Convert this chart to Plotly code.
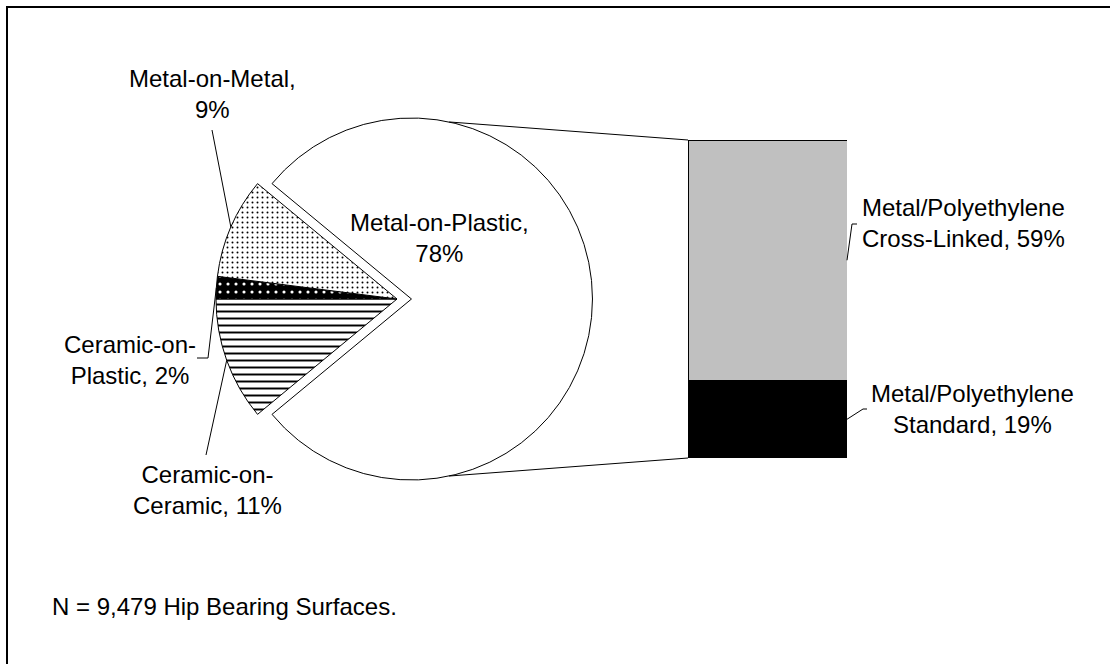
import math
import plotly.graph_objects as go

W, H = 1110, 664

# ---------------- data ----------------
pie_labels = ["Metal-on-Plastic", "Ceramic-on-Ceramic", "Ceramic-on-Plastic", "Metal-on-Metal"]
pie_values = [78, 11, 2, 9]
pie_text = ["Metal-on-Plastic,<br>78%", "Ceramic-on-<br>Ceramic, 11%",
            "Ceramic-on-<br>Plastic, 2%", "Metal-on-Metal,<br>9%"]
bar_labels = ["Metal/Polyethylene Standard", "Metal/Polyethylene Cross-Linked"]
bar_values = [19, 59]
bar_text = ["Metal/Polyethylene<br>Standard, 19%", "Metal/Polyethylene<br>Cross-Linked, 59%"]
note_text = "N = 9,479 Hip Bearing Surfaces."

FONT = "Arial, Liberation Sans, sans-serif"
FS = 24


def px(x):
    return x / W


def py(y):
    return 1 - y / H


# ---------------- pie geometry (pixels) ----------------
CX, CY, R = 397, 299, 181
PULL = 0.08
HALF = R * (1 + PULL)
total = sum(pie_values)
small = total - pie_values[0]
START = 180 - small / total * 360 / 2          # math angle where first slice starts
rotation = 90 - START                            # plotly: clockwise from 12 o'clock

mids = []
cum = 0
for v in pie_values:
    mids.append(START - (cum + v / 2) / total * 360)
    cum += v


def on_arc(cx, cy, ang, r=R):
    a = math.radians(ang)
    return cx + r * math.cos(a), cy - r * math.sin(a)


fig = go.Figure()

fig.add_trace(go.Pie(
    labels=pie_labels, values=pie_values, sort=False, direction="clockwise",
    rotation=rotation, pull=[PULL, 0, 0, 0], textinfo="none", showlegend=False,
    hoverinfo="label+percent",
    domain=dict(x=[px(CX - HALF), px(CX + HALF)], y=[py(CY + HALF), py(CY - HALF)]),
    marker=dict(
        colors=["white", "white", "black", "white"],
        line=dict(color="black", width=1),
        pattern=dict(
            shape=["", "-", ".", "."],
            fgcolor=["black", "black", "white", "black"],
            bgcolor=["white", "white", "black", "white"],
            size=[8, 7, 8, 5],
            solidity=[0.2, 0.28, 0.12, 0.12],
        ),
    ),
))

# ---------------- bar ----------------
BX0, BX1, BY0, BY1 = 688, 847, 140, 458
bar_colors = ["black", "#c0c0c0"]
for lab, val, col in zip(bar_labels, bar_values, bar_colors):
    fig.add_trace(go.Bar(
        x=[0], y=[val], name=lab, marker=dict(color=col, line=dict(color="black", width=1)),
        width=1, showlegend=False, xaxis="x", yaxis="y",
    ))

fig.update_layout(
    width=W, height=H, margin=dict(l=0, r=0, t=0, b=0),
    paper_bgcolor="white", plot_bgcolor="white", barmode="stack",
    xaxis=dict(domain=[px(BX0), px(BX1)], range=[-0.5, 0.5], visible=False, fixedrange=True),
    yaxis=dict(domain=[py(BY1), py(BY0)], range=[0, sum(bar_values)], visible=False, fixedrange=True),
    font=dict(family=FONT, size=FS, color="black"),
)

shapes = []


def seg(points, width=1):
    for (x0, y0), (x1, y1) in zip(points[:-1], points[1:]):
        shapes.append(dict(type="line", xref="paper", yref="paper",
                           x0=px(x0), y0=py(y0), x1=px(x1), y1=py(y1),
                           line=dict(color="black", width=width)))


# outer frame
shapes.append(dict(type="rect", xref="paper", yref="paper",
                   x0=px(7), y0=py(7), x1=px(W + 20), y1=py(H + 20),
                   line=dict(color="black", width=2), fillcolor="rgba(0,0,0,0)"))

# connector lines from pie (pulled main slice) to bar
WX = CX + PULL * R
top_pt = on_arc(WX, CY, 78)
bot_pt = on_arc(WX, CY, -78)
seg([top_pt, (BX0, BY0)])
seg([bot_pt, (BX0, BY1)])

# leader lines for pie labels
t_coc = on_arc(CX, CY, mids[1])
t_cop = on_arc(CX, CY, mids[2])
t_mom = on_arc(CX, CY, mids[3])
seg([(212, 130), t_mom])
seg([(197, 358), (208, 358), t_cop])
seg([(206, 455), t_coc])

# leader lines for bar labels
bar_span = BY1 - BY0
tot_b = sum(bar_values)
std_mid = BY1 - bar_values[0] / 2 / tot_b * bar_span
xl_mid = BY1 - (bar_values[0] + bar_values[1] / 2) / tot_b * bar_span
seg([(BX1, xl_mid), (852, 224), (857, 224)])
seg([(BX1, std_mid), (863, 409), (867, 409)])

annotations = []


def label(text, x, y, xanchor="center", align="center"):
    annotations.append(dict(text=text, x=px(x), y=py(y), xref="paper", yref="paper",
                            showarrow=False, xanchor=xanchor, yanchor="middle", align=align,
                            font=dict(family=FONT, size=FS, color="black")))


label(pie_text[3], 212, 94)
label(pie_text[0], 439, 238)
label(pie_text[2], 130, 360)
label(pie_text[1], 207, 490)
label(bar_text[1], 963, 222.5)
label(bar_text[0], 972, 408.5)
label(note_text, 50, 606, xanchor="left", align="left")

fig.update_layout(shapes=shapes, annotations=annotations)

fig.write_html("out.html")
